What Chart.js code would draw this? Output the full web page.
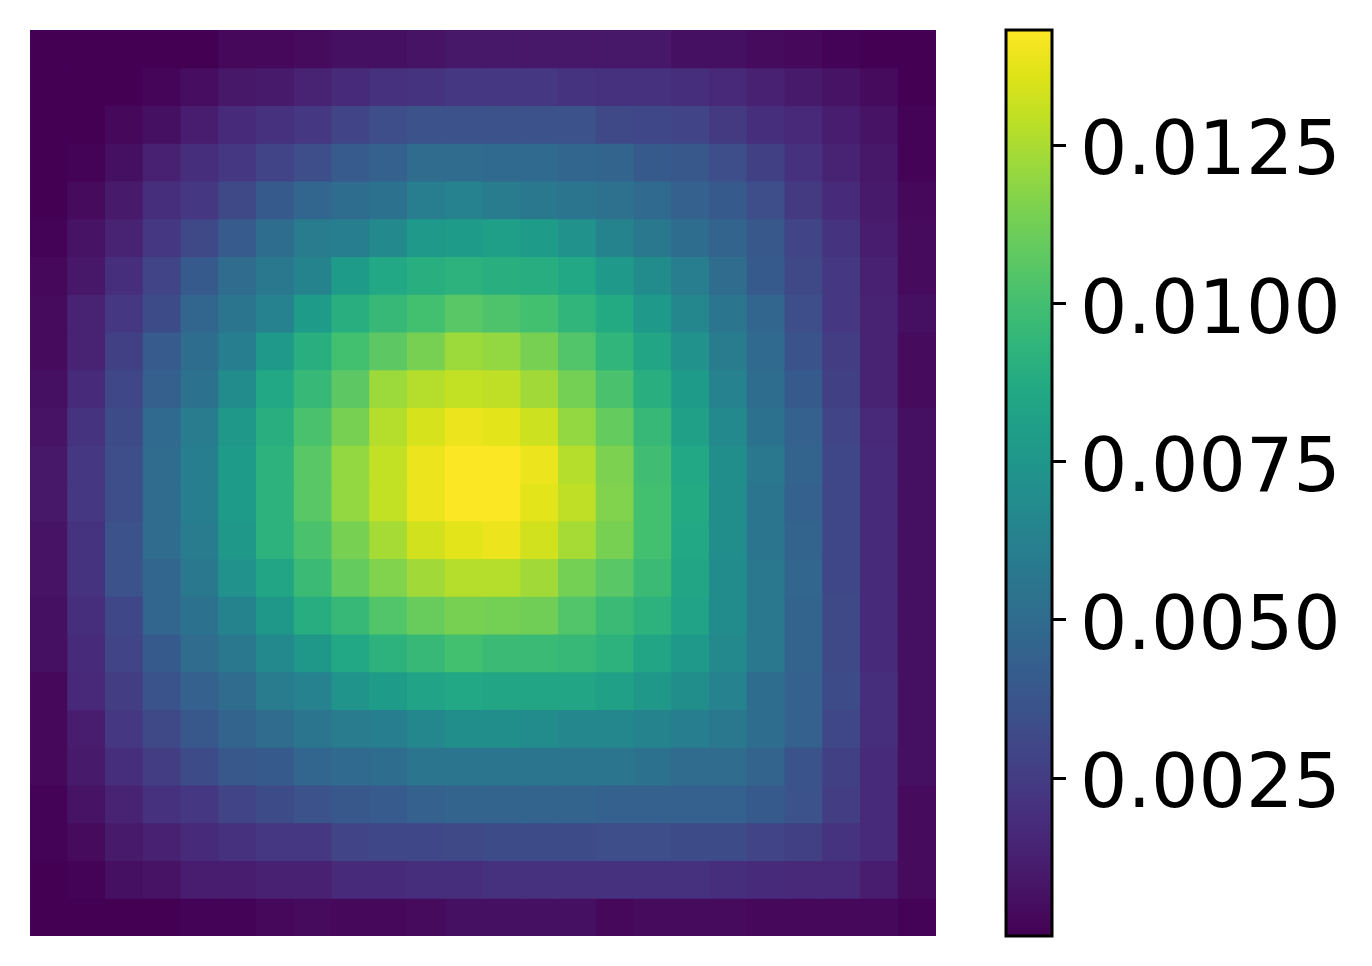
<!DOCTYPE html>
<html>
<head>
<meta charset="utf-8">
<title>heatmap</title>
<script src="https://cdn.jsdelivr.net/npm/chart.js@4"></script>
<style>
    html, body { margin: 0; padding: 0; background: #fff; }
    body { width: 1372px; height: 966px; position: relative; overflow: hidden; }
    canvas { position: absolute; display: block; }
    #heat { left: 30px; top: 30px; }
    #bar { left: 990px; top: 0; }
</style>
</head>
<body>
<canvas id="heat" width="906" height="906"></canvas>
<canvas id="bar" width="382" height="966"></canvas>
<script>
// cell values, in units of 1e-4 (top row first)
const unit = 1e-4;
const r00 = [0,0,0,0,0,3,3,4,6,6,7,9,9,9,9,9,9,6,6,4,3,1,0,0];
const r01 = [0,0,0,2,5,9,10,14,17,20,21,23,23,23,21,20,20,19,16,13,10,7,4,0];
const r02 = [0,0,3,6,11,17,20,23,29,34,36,36,36,36,36,31,30,29,24,19,16,11,7,1];
const r03 = [0,1,6,13,19,23,29,34,41,44,50,50,49,49,47,46,40,39,34,27,20,14,9,1];
const r04 = [0,4,10,19,23,31,40,47,51,54,60,63,59,57,56,53,49,44,40,34,24,17,10,3];
const r05 = [1,7,14,23,31,41,51,59,61,67,77,79,80,79,72,64,57,51,46,39,29,21,11,4];
const r06 = [3,9,19,29,40,50,57,64,79,86,90,92,90,89,86,77,69,60,50,40,31,23,13,4];
const r07 = [4,14,23,33,47,56,63,79,90,96,100,106,103,100,94,87,77,66,56,47,34,23,14,6];
const r08 = [4,14,27,41,51,61,77,90,100,107,114,122,120,114,104,94,84,72,59,49,37,26,14,4];
const r09 = [6,17,30,43,54,69,86,96,107,122,127,130,129,123,113,102,90,79,63,51,40,27,14,4];
const r10 = [7,21,33,49,59,76,90,102,114,127,134,139,137,132,120,109,96,82,67,54,44,29,16,6];
const r11 = [9,23,34,50,61,79,92,106,120,130,139,143,143,139,127,115,99,86,70,57,46,30,17,6];
const r12 = [9,23,34,50,61,79,92,106,120,130,139,143,143,137,129,116,100,87,70,56,44,30,17,6];
const r13 = [7,21,36,50,59,76,92,102,114,124,133,137,139,133,124,114,100,86,70,56,46,30,17,6];
const r14 = [7,21,36,47,57,72,84,97,109,116,123,127,127,123,113,106,97,84,69,57,47,30,17,6];
const r15 = [6,19,30,47,54,64,76,89,96,104,110,114,113,112,104,97,92,83,69,57,46,31,17,6];
const r16 = [6,17,29,40,50,57,67,76,86,92,96,100,97,97,96,92,84,77,67,57,46,31,17,6];
const r17 = [3,16,26,37,44,50,59,63,73,79,83,86,84,84,84,82,76,70,63,51,44,33,19,6];
const r18 = [3,11,23,31,39,46,50,56,59,61,66,70,70,69,66,66,64,61,57,51,44,30,19,6];
const r19 = [3,10,19,26,33,39,40,47,49,51,56,56,56,56,56,56,54,50,50,46,37,27,17,6];
const r20 = [1,7,14,20,23,29,33,36,39,41,44,46,46,46,46,44,44,44,44,40,36,26,17,4];
const r21 = [1,4,10,13,17,20,23,23,29,30,30,31,33,33,33,34,34,33,33,29,27,21,17,4];
const r22 = [0,1,6,7,11,11,13,13,17,17,19,19,20,20,20,20,20,20,19,17,16,16,11,4];
const r23 = [0,0,0,0,1,1,3,4,3,3,4,6,6,6,6,3,4,4,4,3,3,3,3,1];
const rows = [r00,r01,r02,r03,r04,r05,r06,r07,r08,r09,r10,r11,r12,r13,r14,r15,r16,r17,r18,r19,r20,r21,r22,r23];

const columns = r00.map((_, i) => String(i));
const colorTicks = [0.0025, 0.0050, 0.0075, 0.0100, 0.0125];
const vMin = 0.000004;
const vMax = 0.014317;

// viridis, every 5%
const viridis = ['#440154','#471365','#482475','#463480','#414487','#3b528b','#355f8d','#2f6c8e','#2a788e','#25848e','#21918c',
    '#1e9c89','#22a884','#2fb47c','#44bf70','#5ec962','#7ad151','#9bd93c','#bddf26','#dfe318','#fde725'];

function hexRgb(h) {
    return [1, 3, 5].map(i => parseInt(h.slice(i, i + 2), 16));
}

function colorFor(v) {
    let f = Math.min(1, Math.max(0, (v - vMin) / (vMax - vMin))) * (viridis.length - 1);
    let i = Math.min(viridis.length - 2, Math.floor(f));
    let a = hexRgb(viridis[i]), b = hexRgb(viridis[i + 1]);
    let c = a.map((x, k) => Math.round(x + (b[k] - x) * (f - i)));
    return `rgb(${c[0]},${c[1]},${c[2]})`;
}

const heatSets = rows.map((row, r) => ({
    data: row.map(() => [r, r + 1]),
    backgroundColor: row.map(v => colorFor(v * unit)),
    borderWidth: 0,
    inflateAmount: 0.5,
    grouped: false,
    barPercentage: 1,
    categoryPercentage: 1
}));

new Chart(document.getElementById('heat').getContext('2d'), {
    type: 'bar',
    data: { labels: columns, datasets: heatSets },
    options: {
        responsive: false,
        animation: false,
        events: [],
        plugins: { legend: { display: false }, tooltip: { enabled: false } },
        scales: {
            x: { display: false },
            y: { display: false, reverse: true, min: 0, max: rows.length }
        }
    }
});

function barGradient(c) {
    const a = c.chart.chartArea;
    if (!a) return '#000';
    const g = c.chart.ctx.createLinearGradient(0, a.bottom, 0, a.top);
    viridis.forEach((col, i) => g.addColorStop(i / (viridis.length - 1), col));
    return g;
}

new Chart(document.getElementById('bar').getContext('2d'), {
    type: 'bar',
    data: {
        labels: [''],
        datasets: [{ data: [[vMin, vMax]], backgroundColor: barGradient, borderWidth: 0, barPercentage: 1, categoryPercentage: 1 }]
    },
    options: {
        responsive: false,
        animation: false,
        events: [],
        layout: { padding: { left: 16, top: 30, bottom: 30, right: 0 } },
        plugins: { legend: { display: false }, tooltip: { enabled: false } },
        scales: {
            x: { display: false },
            y: {
                position: 'right',
                min: vMin,
                max: vMax,
                afterFit: s => { s.width = 320; s.paddingTop = 0; s.paddingBottom = 0; },
                afterBuildTicks: s => { s.ticks = colorTicks.map(v => ({ value: v })); },
                grid: { drawOnChartArea: false, tickLength: 14, tickWidth: 3, tickColor: '#000' },
                border: { display: false },
                ticks: {
                    autoSkip: false,
                    color: '#000',
                    padding: 14,
                    labelOffset: 10,
                    font: { family: 'DejaVu Sans', size: 74.5 },
                    callback: v => v.toFixed(4)
                }
            }
        }
    },
    plugins: [{
        id: 'frame',
        afterDraw: chart => {
            const { ctx, chartArea: a } = chart;
            ctx.save();
            ctx.strokeStyle = '#000';
            ctx.lineWidth = 3;
            ctx.strokeRect(a.left, a.top, a.right - a.left, a.bottom - a.top);
            ctx.restore();
        }
    }]
});
</script>
</body>
</html>
